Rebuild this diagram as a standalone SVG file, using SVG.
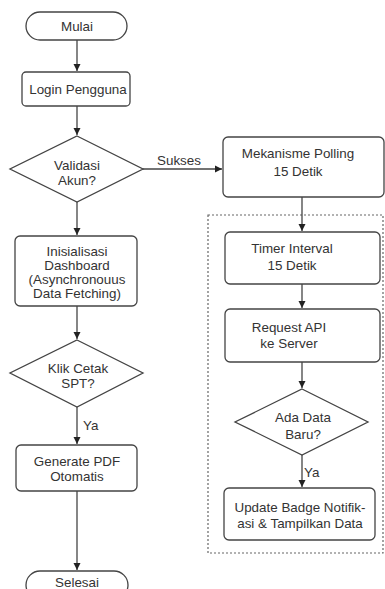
<svg xmlns="http://www.w3.org/2000/svg" width="385" height="589" viewBox="0 0 385 589">
<style>
.s{fill:#fff;stroke:#444;stroke-width:1.3}
.t{font-family:"Liberation Sans",Arial,sans-serif;font-size:13.4px;fill:#333;text-anchor:middle}
.l{font-family:"Liberation Sans",Arial,sans-serif;font-size:13.4px;fill:#333}
.c{fill:none;stroke:#444;stroke-width:1.3}
</style>
<defs>
<marker id="a" markerUnits="userSpaceOnUse" markerWidth="8" markerHeight="8" refX="7" refY="4" orient="auto">
<path d="M0,0.5 L7,4 L0,7.5 z" fill="#222"/>
</marker>
</defs>
<rect x="0" y="0" width="385" height="589" fill="#fff"/>
<rect x="208" y="215" width="175" height="338" fill="none" stroke="#666" stroke-width="1.2" stroke-dasharray="2,2"/>
<g id="connectors">
<path class="c" d="M77,40 V71" marker-end="url(#a)"/>
<path class="c" d="M77,106 V135" marker-end="url(#a)"/>
<path class="c" d="M143,169 H222" marker-end="url(#a)"/>
<path class="c" d="M77,202 V235" marker-end="url(#a)"/>
<path class="c" d="M77,306 V339" marker-end="url(#a)"/>
<path class="c" d="M77,407 V444" marker-end="url(#a)"/>
<path class="c" d="M77,491 V570" marker-end="url(#a)"/>
<path class="c" d="M302,197 V231" marker-end="url(#a)"/>
<path class="c" d="M302,284 V308" marker-end="url(#a)"/>
<path class="c" d="M302,362 V388" marker-end="url(#a)"/>
<path class="c" d="M302,455 V487" marker-end="url(#a)"/>
<text class="l" x="157" y="165">Sukses</text>
<text class="l" x="83" y="430">Ya</text>
<text class="l" x="304" y="477">Ya</text>
</g>
<g id="mulai">
<rect class="s" x="26" y="12" width="101" height="28" rx="14"/>
<text class="t" x="77" y="31">Mulai</text>
</g>
<g id="login">
<rect class="s" x="22" y="72" width="108" height="34" rx="4"/>
<text class="t" x="78" y="94">Login Pengguna</text>
</g>
<g id="validasi">
<path class="s" d="M77,136 L143,169 L77,202 L10,169 z"/>
<text class="t" x="77" y="170">Validasi</text>
<text class="t" x="77" y="185">Akun?</text>
</g>
<g id="polling">
<rect class="s" x="223" y="137" width="161" height="60" rx="5"/>
<text class="t" x="298" y="158">Mekanisme Polling</text>
<text class="t" x="298" y="176">15 Detik</text>
</g>
<g id="timer">
<rect class="s" x="225" y="232" width="155" height="52" rx="5"/>
<text class="t" x="292" y="253">Timer Interval</text>
<text class="t" x="292" y="270">15 Detik</text>
</g>
<g id="request">
<rect class="s" x="225" y="309" width="155" height="53" rx="5"/>
<text class="t" x="289" y="332">Request API</text>
<text class="t" x="289" y="348">ke Server</text>
</g>
<g id="adadata">
<path class="s" d="M302,389 L368,422 L302,455 L235,422 z"/>
<text class="t" x="303" y="422">Ada Data</text>
<text class="t" x="303" y="439">Baru?</text>
</g>
<g id="update">
<rect class="s" x="224" y="488" width="151" height="52" rx="5"/>
<text class="t" x="300" y="512">Update Badge Notifik-</text>
<text class="t" x="300" y="528">asi &amp; Tampilkan Data</text>
</g>
<g id="inisialisasi">
<rect class="s" x="15" y="236" width="122" height="70" rx="5"/>
<text class="t" x="77" y="256">Inisialisasi</text>
<text class="t" x="77" y="270">Dashboard</text>
<text class="t" x="77" y="284">(Asynchronouus</text>
<text class="t" x="77" y="298">Data Fetching)</text>
</g>
<g id="klik">
<path class="s" d="M77,340 L143,373 L77,407 L10,373 z"/>
<text class="t" x="78" y="373">Klik Cetak</text>
<text class="t" x="78" y="388">SPT?</text>
</g>
<g id="generate">
<rect class="s" x="16" y="445" width="121" height="46" rx="5"/>
<text class="t" x="77" y="466">Generate PDF</text>
<text class="t" x="77" y="481">Otomatis</text>
</g>
<g id="selesai">
<rect class="s" x="26" y="571" width="102" height="28" rx="14"/>
<text class="t" x="77" y="587">Selesai</text>
</g>
</svg>
